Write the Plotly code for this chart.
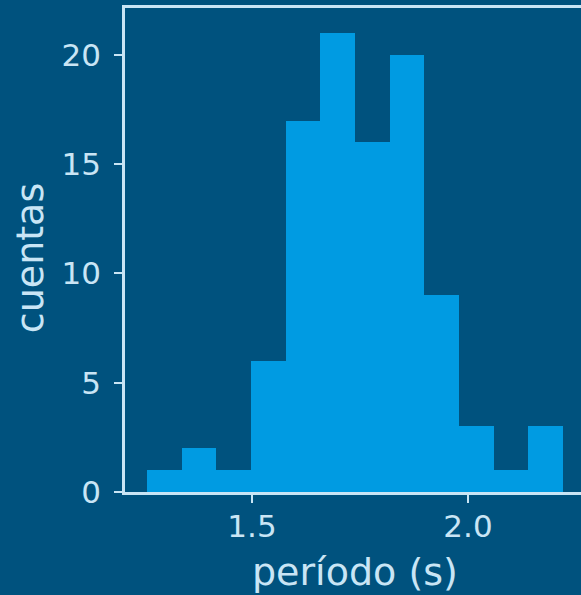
import plotly.graph_objects as go

# histogram data
bin_edges = [1.257, 1.337, 1.417, 1.498, 1.578, 1.658, 1.739, 1.819, 1.899, 1.980, 2.060, 2.140, 2.221]
counts = [1, 2, 1, 6, 17, 21, 16, 20, 9, 3, 1, 3]
y_ticks = [0, 5, 10, 15, 20]
x_ticks = [1.5, 2.0]
x_tick_labels = ["1.5", "2.0"]

BG = "#00527e"
BAR = "#009be2"
FG = "#c9e5f5"

centers = [(bin_edges[i] + bin_edges[i + 1]) / 2 for i in range(len(counts))]
widths = [bin_edges[i + 1] - bin_edges[i] for i in range(len(counts))]

fig = go.Figure(go.Bar(x=centers, y=counts, width=widths,
                       marker=dict(color=BAR, line=dict(width=0)),
                       hoverinfo="skip"))

font = "DejaVu Sans"
fig.update_layout(
    width=581, height=595,
    paper_bgcolor=BG, plot_bgcolor=BG,
    margin=dict(l=125, r=0, t=8, b=103),
    showlegend=False,
    font=dict(family=font, color=FG),
    bargap=0,
)
fig.update_xaxes(
    range=[1.206, 2.2616],
    tickvals=x_ticks, ticktext=x_tick_labels,
    ticks="outside", ticklen=8, tickwidth=1.5, tickcolor=FG,
    showline=True, linecolor=FG, linewidth=2.5, mirror=True,
    showgrid=False, zeroline=False,
    tickfont=dict(size=31, family=font, color=FG),
    ticklabelstandoff=-3,
)
fig.update_yaxes(
    range=[0, 22.15],
    tickvals=y_ticks,
    ticks="outside", ticklen=8, tickwidth=1.5, tickcolor=FG,
    showline=True, linecolor=FG, linewidth=2.5,
    showgrid=False, zeroline=False,
    tickfont=dict(size=31, family=font, color=FG),
    ticklabelstandoff=7,
)
# axis titles as annotations for precise placement
fig.add_annotation(text="período (s)", xref="paper", yref="paper",
                   x=(355 - 125) / 456, y=0, xanchor="center", yanchor="middle",
                   yshift=-80, showarrow=False,
                   font=dict(size=38, family=font, color=FG))
fig.add_annotation(text="cuentas", xref="paper", yref="paper",
                   x=0, y=0.483, xanchor="center", yanchor="middle", textangle=-90,
                   xshift=-95, showarrow=False,
                   font=dict(size=38, family=font, color=FG))

fig.write_html("out.html", config={"displayModeBar": False},
               post_script="document.body.style.margin='0';document.body.style.overflow='hidden';")
